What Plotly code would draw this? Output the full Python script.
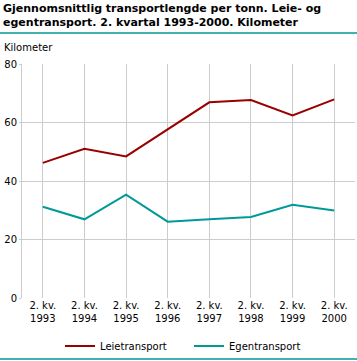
import plotly.graph_objects as go

years = ["1993", "1994", "1995", "1996", "1997", "1998", "1999", "2000"]
tick_labels = ["2. kv.<br>" + y for y in years]
leie = [46.2, 51.0, 48.4, 57.8, 66.9, 67.7, 62.4, 67.9]
egen = [31.2, 26.9, 35.3, 26.1, 26.9, 27.7, 31.9, 29.9]

RED = "#990000"
TEAL = "#009999"
FONT = "DejaVu Sans"

x = list(range(len(years)))

fig = go.Figure()
fig.add_trace(go.Scatter(x=x, y=leie, mode="lines", name="Leietransport",
                         line=dict(color=RED, width=2)))
fig.add_trace(go.Scatter(x=x, y=egen, mode="lines", name="Egentransport",
                         line=dict(color=TEAL, width=2)))

PW = 333.0
PH = 234.0

fig.update_layout(
    width=357, height=361,
    margin=dict(l=22, r=2, t=64, b=63, pad=0, autoexpand=False),
    paper_bgcolor="white", plot_bgcolor="white",
    font=dict(family=FONT, size=10, color="black"),
    showlegend=True,
    hovermode=False,
    legend=dict(orientation="h", x=(60 - 22) / PW, xanchor="left",
                y=-(346 - 298) / PH, yanchor="middle",
                font=dict(family=FONT, size=10), entrywidth=84,
                tracegroupgap=0, itemwidth=30, bgcolor="rgba(0,0,0,0)"),
    xaxis=dict(range=[-0.5, 7.5], tickvals=x, ticktext=tick_labels,
               showgrid=True, gridcolor="#cccccc", gridwidth=1,
               zeroline=False, showline=False, ticks="", fixedrange=True,
               automargin=False, tickfont=dict(family=FONT, size=10)),
    yaxis=dict(range=[0, 80], dtick=20, showgrid=True, gridcolor="#cccccc",
               gridwidth=1, zeroline=False, showline=True, linecolor="#cccccc",
               linewidth=1, ticks="outside", ticklen=2, tickcolor="#cccccc",
               fixedrange=True, automargin=False,
               tickfont=dict(family=FONT, size=10)),
)

fig.add_annotation(text="<b>Gjennomsnittlig transportlengde per tonn. Leie- og<br>egentransport. 2. kvartal 1993-2000. Kilometer</b>",
                   xref="paper", yref="paper", x=-21 / PW, y=1 + 64 / PH,
                   xanchor="left", yanchor="top", showarrow=False, align="left",
                   font=dict(family=FONT, size=11, color="black"))
fig.add_annotation(text="Kilometer", xref="paper", yref="paper",
                   x=-20 / PW, y=1 + 17 / PH, xanchor="left", yanchor="middle",
                   showarrow=False, font=dict(family=FONT, size=10))
fig.add_shape(type="line", xref="paper", yref="paper", x0=-22 / PW, x1=1 + 2 / PW,
              y0=1 + 31 / PH, y1=1 + 31 / PH, line=dict(color=TEAL, width=1.5))
fig.add_shape(type="line", xref="paper", yref="paper", x0=-22 / PW, x1=1 + 2 / PW,
              y0=-61 / PH, y1=-61 / PH, line=dict(color=TEAL, width=1.5))

fig.write_html("out.html", config={"displayModeBar": False},
               post_script="document.body.style.margin='0';document.body.style.overflow='hidden';")
